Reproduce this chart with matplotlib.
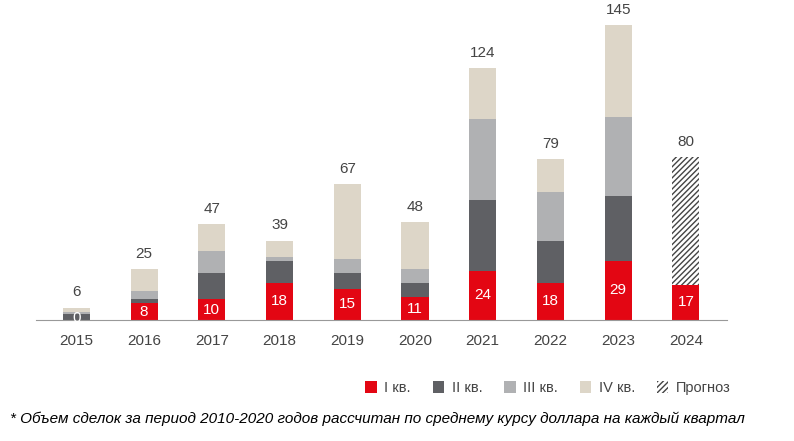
import matplotlib
matplotlib.use("Agg")
import matplotlib.pyplot as plt
import numpy as np

years = ["2015","2016","2017","2018","2019","2020","2021","2022","2023","2024"]
q1 = [0, 8, 10, 18, 15, 11, 24, 18, 29, 17]
q2 = [3, 2, 13, 11, 8, 7, 35, 21, 32, 0]
q3 = [1, 4, 11, 2, 7, 7, 40, 24, 39, 0]
q4 = [2, 11, 13, 8, 37, 23, 25, 16, 45, 0]
forecast = [0, 0, 0, 0, 0, 0, 0, 0, 0, 63]
totals = [6, 25, 47, 39, 67, 48, 124, 79, 145, 80]

plt.rcParams['font.family'] = ['Liberation Sans', 'DejaVu Sans']
fig = plt.figure(figsize=(7.94, 4.41), dpi=100)
ax = fig.add_axes([0.045, 0.275, 0.87, 0.70])
x = np.arange(len(years))
w = 0.4
cols = ['#e30613', '#5f6064', '#b0b1b3', '#ddd6c8']
bottom = np.zeros(len(years))
labels = ['I кв.', 'II кв.', 'III кв.', 'IV кв.']
for vals, c, l in zip([q1, q2, q3, q4], cols, labels):
    ax.bar(x, vals, w, bottom=bottom, color=c, label=l)
    bottom += np.array(vals)
ax.bar(x, forecast, w, bottom=bottom, color='white', edgecolor='#444444',
       hatch='//////', linewidth=0, label='Прогноз')
bottom += np.array(forecast)
for i in range(len(years)):
    ax.text(x[i], totals[i] + 4, str(totals[i]), ha='center', va='bottom',
            fontsize=11, color='#444444')
    ax.text(x[i], q1[i] / 2 if q1[i] > 3 else 1, str(q1[i]), ha='center',
            va='center', fontsize=11, color='white')
ax.set_xticks(x)
ax.set_xticklabels(years, fontsize=11, color='#444444')
ax.tick_params(axis='x', length=0, pad=10)
ax.set_yticks([])
for s in ['top', 'right', 'left']:
    ax.spines[s].set_visible(False)
ax.spines['bottom'].set_color('#999999')
ax.set_xlim(-0.6, 9.6)
ax.set_ylim(0, 152)
leg = fig.legend(loc='center', bbox_to_anchor=(0.69, 0.12), ncol=5, frameon=False,
                 fontsize=10.5, handlelength=0.8, handleheight=0.8, columnspacing=1.5,
                 handletextpad=0.5, labelcolor='#444444')
fig.text(0.012, 0.04, "* Объем сделок за период 2010-2020 годов рассчитан по среднему курсу доллара на каждый квартал",
         fontsize=11, style='italic', color='black')
fig.savefig("out.png", dpi=100)
